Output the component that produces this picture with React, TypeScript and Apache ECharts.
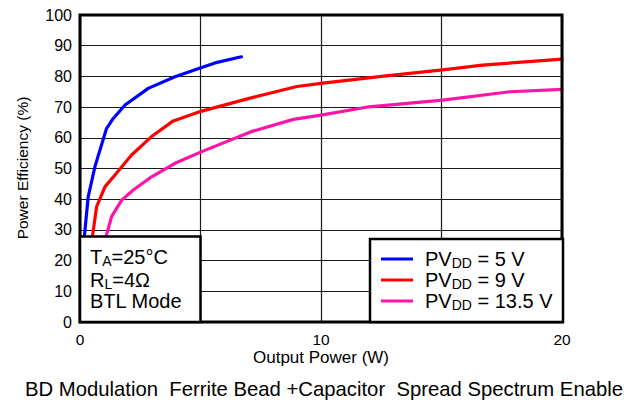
import React, { useEffect, useRef } from "react";
import * as echarts from "echarts";

// Output power (W) and efficiency (%)
const blueW = [0.17, 0.34, 0.62, 1.1, 1.38, 1.87, 2.83, 3.94, 5.05, 5.6, 6.7];
const blueE = [27, 40.8, 50.6, 63, 66.3, 70.7, 76.1, 79.9, 82.9, 84.4, 86.4];
const redW = [0.5, 0.69, 1.04, 1.45, 2.14, 2.97, 3.87, 5.05, 7.1, 9.0, 10.0, 12.6, 15.05, 16.7, 20];
const redE = [27, 37.6, 44.1, 47.9, 54.4, 60.4, 65.5, 68.7, 73, 76.7, 77.7, 80.1, 82.1, 83.7, 85.6];
const magW = [1.05, 1.31, 1.73, 2.21, 2.97, 3.94, 5.05, 7.1, 8.85, 10.0, 12.0, 15.05, 17.84, 20];
const magE = [27, 34.3, 39.7, 43, 47.3, 51.7, 55.5, 62, 66, 67.4, 70.1, 72.3, 75, 75.8];

const seriesNames = ["5 V", "9 V", "13.5 V"];
const seriesColors = ["#0000ff", "#ff0000", "#ff14a8"];
const xTickLabels = [0, 10, 20];
const xTitle = "Output Power (W)";
const yTitle = "Power Efficiency (%)";
const caption = "BD Modulation  Ferrite Bead +Capacitor  Spread Spectrum Enable";

const FONT = "'Liberation Sans', Arial, sans-serif";

const zip = (a: number[], b: number[]) => a.map((v, i) => [v, b[i]]);

export default function App() {
  const ref = useRef<HTMLDivElement>(null);
  useEffect(() => {
    if (!ref.current) return;
    const chart = echarts.init(ref.current, null, { renderer: "svg" });
    const data = [zip(blueW, blueE), zip(redW, redE), zip(magW, magE)];
    const rich = {
      n: { fontSize: 20, fontFamily: FONT, color: "#000", lineHeight: 22 },
      s: { fontSize: 14, fontFamily: FONT, color: "#000", lineHeight: 12, verticalAlign: "bottom" as const },
    };
    const legendYs = [259, 280, 301];
    chart.setOption({
      animation: false,
      grid: {
        left: 80,
        top: 15,
        width: 482,
        height: 307,
        show: true,
        borderColor: "#000",
        borderWidth: 3,
        z: 20,
      },
      xAxis: {
        type: "value",
        min: 0,
        max: 20,
        interval: 5,
        axisLine: { show: false },
        axisTick: { show: false },
        splitLine: { show: true, lineStyle: { color: "#1a1a1a", width: 1.2 } },
        axisLabel: {
          fontSize: 15.5,
          fontFamily: FONT,
          color: "#000",
          margin: 11,
          lineHeight: 13,
          formatter: (v: number) => (xTickLabels.includes(v) ? String(v) : ""),
        },
      },
      yAxis: {
        type: "value",
        min: 0,
        max: 100,
        interval: 10,
        axisLine: { show: false },
        axisTick: { show: false },
        splitLine: { show: true, lineStyle: { color: "#1a1a1a", width: 1.2 } },
        axisLabel: { fontSize: 16, fontFamily: FONT, color: "#000", margin: 8 },
      },
      series: data.map((d, i) => ({
        name: seriesNames[i],
        type: "line",
        data: d,
        smooth: false,
        showSymbol: false,
        lineStyle: { color: seriesColors[i], width: 3.2, join: "round", cap: "round" },
        z: 5,
      })),
      graphic: [
        {
          type: "rect",
          z: 50,
          shape: { x: 80, y: 236.5, width: 120.5, height: 85.5 },
          style: { fill: "#fff", stroke: "#000", lineWidth: 2.5 },
        },
        {
          type: "text",
          z: 51,
          x: 90,
          y: 257,
          style: { text: "{n|T}{s|A}{n|=25°C}", rich, verticalAlign: "middle", align: "left" },
        },
        {
          type: "text",
          z: 51,
          x: 90,
          y: 279.5,
          style: { text: "{n|R}{s|L}{n|=4Ω}", rich, verticalAlign: "middle", align: "left" },
        },
        {
          type: "text",
          z: 51,
          x: 90,
          y: 301,
          style: { text: "{n|BTL Mode}", rich, verticalAlign: "middle", align: "left" },
        },
        {
          type: "rect",
          z: 50,
          shape: { x: 370, y: 239, width: 193, height: 83 },
          style: { fill: "#fff", stroke: "#000", lineWidth: 2.5 },
        },
        ...seriesNames.flatMap((nm, i) => [
          {
            type: "line",
            z: 51,
            shape: { x1: 381, y1: legendYs[i], x2: 413, y2: legendYs[i] },
            style: { stroke: seriesColors[i], lineWidth: 3 },
          },
          {
            type: "text",
            z: 51,
            x: 425,
            y: legendYs[i],
            style: { text: `{n|PV}{s|DD}{n| = ${nm}}`, rich, verticalAlign: "middle", align: "left" },
          },
        ]),
        {
          type: "text",
          x: 321,
          y: 357,
          style: {
            text: xTitle,
            fontSize: 17,
            lineHeight: 15,
            fontFamily: FONT,
            fill: "#000",
            align: "center",
            verticalAlign: "middle",
          },
        },
        {
          type: "text",
          x: 22,
          y: 168,
          rotation: Math.PI / 2,
          style: { text: yTitle, fontSize: 15.5, fontFamily: FONT, fill: "#000", align: "center", verticalAlign: "middle" },
        },
        {
          type: "text",
          x: 324,
          y: 389,
          style: { text: caption, fontSize: 20.3, fontFamily: FONT, fill: "#000", align: "center", verticalAlign: "middle" },
        },
      ],
    });
    return () => chart.dispose();
  }, []);
  return <div ref={ref} style={{ position: "absolute", left: 0, top: 0, width: 631, height: 400 }} />;
}
